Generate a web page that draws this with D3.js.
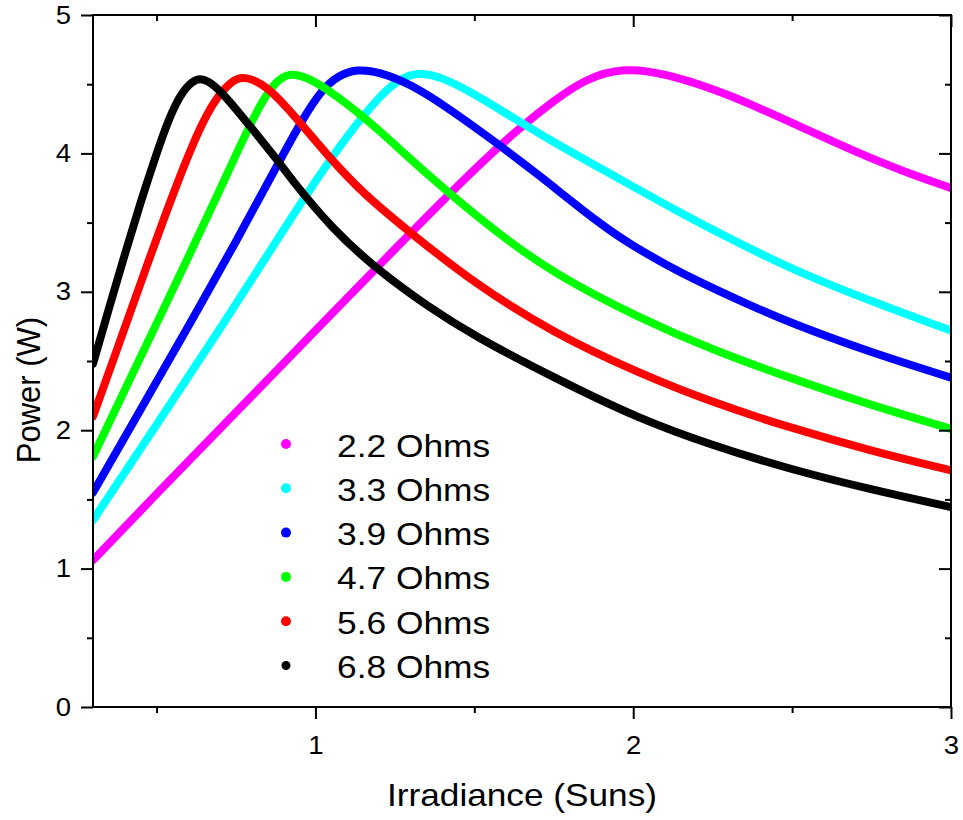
<!DOCTYPE html>
<html>
<head>
<meta charset="utf-8">
<script src="https://cdn.jsdelivr.net/npm/d3@7"></script>
<style>
  html, body { margin: 0; padding: 0; background: #fff; }
  svg { display: block; }
  text { font-family: "Liberation Sans", Arial, sans-serif; fill: #000; }
</style>
</head>
<body>
<svg id="chart" width="963" height="820"></svg>
<script>
// ---------------- data ----------------
const seriesNames = ["2.2 Ohms", "3.3 Ohms", "3.9 Ohms", "4.7 Ohms", "5.6 Ohms", "6.8 Ohms"];
const seriesColors = ["#ff00ff", "#00ffff", "#0000ff", "#00ff00", "#ff0000", "#000000"];

const irr22 = [0.3, 0.5, 0.75, 1.0, 1.25, 1.5, 1.65, 1.75, 1.85, 1.97, 2.1, 2.3, 2.5, 2.7, 2.85, 3.0];
const pow22 = [1.06, 1.54, 2.13, 2.72, 3.31, 3.89, 4.2, 4.38, 4.54, 4.62, 4.58, 4.43, 4.22, 4.01, 3.87, 3.75];

const irr33 = [0.3, 0.5, 0.7, 0.9, 1.0, 1.1, 1.2, 1.26, 1.32, 1.4, 1.5, 1.62, 1.75, 1.93, 2.14, 2.3, 2.5, 2.75, 3.0];
const pow33 = [1.35, 2.04, 2.73, 3.45, 3.8, 4.13, 4.41, 4.53, 4.59, 4.55, 4.43, 4.26, 4.08, 3.85, 3.58, 3.39, 3.16, 2.93, 2.72];

const irr39 = [0.3, 0.45, 0.6, 0.75, 0.888, 0.96, 1.02, 1.07, 1.13, 1.2, 1.3, 1.41, 1.55, 1.7, 1.9, 2.0, 2.1, 2.2, 2.35, 2.5, 2.75, 3.0];
const pow39 = [1.55, 2.15, 2.75, 3.36, 3.95, 4.25, 4.46, 4.56, 4.61, 4.59, 4.5, 4.34, 4.11, 3.85, 3.48, 3.33, 3.2, 3.08, 2.92, 2.77, 2.56, 2.38];

const irr47 = [0.3, 0.4, 0.5, 0.6, 0.7, 0.762, 0.82, 0.87, 0.918, 0.99, 1.1, 1.2, 1.35, 1.557, 1.75, 2.02, 2.25, 2.49, 2.75, 3.0];
const pow47 = [1.81, 2.29, 2.77, 3.25, 3.74, 4.05, 4.33, 4.51, 4.59, 4.54, 4.36, 4.17, 3.85, 3.45, 3.13, 2.81, 2.58, 2.38, 2.18, 2.01];

const irr56 = [0.3, 0.38, 0.457, 0.55, 0.635, 0.69, 0.735, 0.771, 0.83, 0.888, 0.96, 1.044, 1.15, 1.286, 1.5, 1.75, 2.02, 2.25, 2.49, 2.75, 3.0];
const pow56 = [2.1, 2.61, 3.11, 3.7, 4.19, 4.41, 4.52, 4.56, 4.51, 4.39, 4.2, 3.97, 3.71, 3.45, 3.06, 2.7, 2.41, 2.2, 2.02, 1.85, 1.71];

const irr68 = [0.3, 0.35, 0.4, 0.45, 0.5, 0.54, 0.58, 0.626, 0.66, 0.708, 0.8, 0.888, 0.918, 1.054, 1.2, 1.35, 1.5, 1.75, 2.02, 2.25, 2.49, 2.75, 3.0];
const pow68 = [2.48, 2.88, 3.27, 3.65, 4.0, 4.26, 4.45, 4.55, 4.53, 4.44, 4.18, 3.93, 3.83, 3.45, 3.15, 2.9, 2.68, 2.38, 2.08, 1.89, 1.72, 1.57, 1.445];

const xMajorTicks = [1, 2, 3];
const xMinorTicks = [0.5, 1.5, 2.5];
const yMajorTicks = [0, 1, 2, 3, 4, 5];
const yMinorTicks = [0.5, 1.5, 2.5, 3.5, 4.5];
const xTitle = "Irradiance (Suns)";
const yTitle = "Power (W)";

const seriesIrr = [irr22, irr33, irr39, irr47, irr56, irr68];
const seriesPow = [pow22, pow33, pow39, pow47, pow56, pow68];

// ---------------- layout ----------------
const L = 93, R = 951, T = 15, B = 707;
const SX = 1.1; // horizontal text stretch

const svg = d3.select("#chart");
const x = d3.scaleLinear().domain([0.3, 3]).range([L, R]);
const y = d3.scaleLinear().domain([0, 5]).range([B, T]);

svg.append("defs").append("clipPath").attr("id", "plotclip")
  .append("rect").attr("x", L).attr("y", T).attr("width", R - L).attr("height", B - T);

// ---------------- curves ----------------
const line = d3.line().x(d => x(d[0])).y(d => y(d[1])).curve(d3.curveBasis);
const gCurves = svg.append("g").attr("clip-path", "url(#plotclip)");
seriesNames.forEach((name, i) => {
  const pts = seriesIrr[i].map((v, j) => [v, seriesPow[i][j]]);
  gCurves.append("path")
    .datum(pts)
    .attr("d", line)
    .attr("fill", "none")
    .attr("stroke", seriesColors[i])
    .attr("stroke-width", 8)
    .attr("stroke-linejoin", "round")
    .attr("stroke-linecap", "round");
});

// ---------------- axes ----------------
function styleAxis(g) {
  g.select(".domain").remove();
  g.selectAll(".tick line").attr("stroke", "#000").attr("stroke-width", 2);
  g.selectAll("text").style("font-size", "25px").attr("fill", "#000");
}
// bottom
const gb = svg.append("g").attr("transform", `translate(0,${B})`)
  .call(d3.axisBottom(x).tickValues(xMajorTicks).tickSize(12).tickPadding(17).tickFormat(d3.format("d")));
styleAxis(gb);
gb.selectAll("text").attr("transform", `scale(${SX},1)`);
const gbm = svg.append("g").attr("transform", `translate(0,${B})`)
  .call(d3.axisBottom(x).tickValues(xMinorTicks).tickSize(6).tickFormat(""));
styleAxis(gbm);
// top (inward)
const gt = svg.append("g").attr("transform", `translate(0,${T})`)
  .call(d3.axisTop(x).tickValues(xMajorTicks).tickSize(-12).tickFormat(""));
styleAxis(gt);
const gtm = svg.append("g").attr("transform", `translate(0,${T})`)
  .call(d3.axisTop(x).tickValues(xMinorTicks).tickSize(-6).tickFormat(""));
styleAxis(gtm);
// left
const gl = svg.append("g").attr("transform", `translate(${L},0)`)
  .call(d3.axisLeft(y).tickValues(yMajorTicks).tickSize(12).tickPadding(10).tickFormat(d3.format("d")));
styleAxis(gl);
gl.selectAll("text").attr("x", -22 / SX).attr("transform", `scale(${SX},1)`);
const glm = svg.append("g").attr("transform", `translate(${L},0)`)
  .call(d3.axisLeft(y).tickValues(yMinorTicks).tickSize(6).tickFormat(""));
styleAxis(glm);
// right (inward)
const gr = svg.append("g").attr("transform", `translate(${R},0)`)
  .call(d3.axisRight(y).tickValues(yMajorTicks).tickSize(-12).tickFormat(""));
styleAxis(gr);
const grm = svg.append("g").attr("transform", `translate(${R},0)`)
  .call(d3.axisRight(y).tickValues(yMinorTicks).tickSize(-6).tickFormat(""));
styleAxis(grm);

// frame
svg.append("rect").attr("x", L).attr("y", T).attr("width", R - L).attr("height", B - T)
  .attr("fill", "none").attr("stroke", "#000").attr("stroke-width", 2);

// ---------------- titles ----------------
svg.append("text")
  .attr("transform", `translate(${(L + R) / 2},806) scale(${SX},1)`)
  .attr("text-anchor", "middle")
  .style("font-size", "32px")
  .text(xTitle);

svg.append("text")
  .attr("transform", `translate(40,390) rotate(-90) scale(1,${SX})`)
  .attr("text-anchor", "middle")
  .style("font-size", "31px")
  .text(yTitle);

// ---------------- legend ----------------
const legend = svg.append("g");
seriesNames.forEach((name, i) => {
  const cy = 444 + i * 44.3;
  legend.append("circle")
    .attr("cx", 286).attr("cy", cy).attr("r", i === 5 ? 4.5 : 5)
    .attr("fill", seriesColors[i]);
  legend.append("text")
    .attr("transform", `translate(337,${cy + 12.5}) scale(1.14,1)`)
    .style("font-size", "31px")
    .text(name);
});
</script>
</body>
</html>
